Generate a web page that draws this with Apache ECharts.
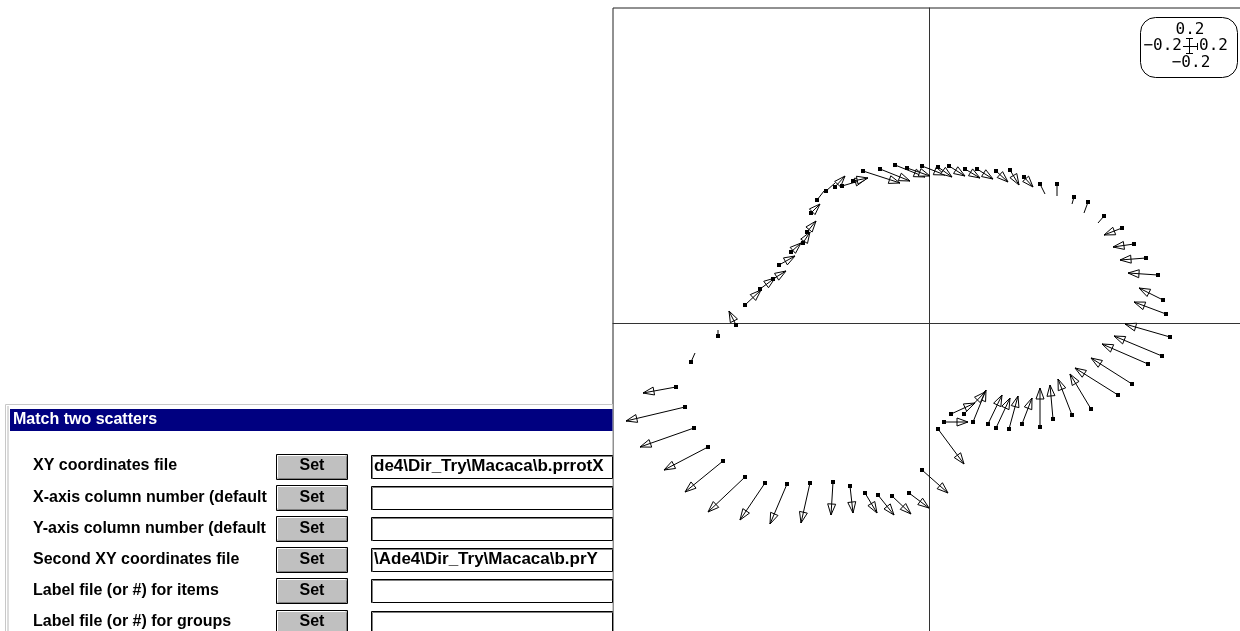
<!DOCTYPE html>
<html>
<head>
<meta charset="utf-8">
<script src="https://cdn.jsdelivr.net/npm/echarts@6/dist/echarts.min.js"></script>
<style>
html,body{margin:0;padding:0;background:#fff;overflow:hidden;}
#chart{width:1260px;height:660px;}
</style>
</head>
<body>
<div id="chart"></div>
<script>
// Arrow start points (first scatter) and end points (second scatter)
const xStart = [-3.68,-3.38,-3.12,-3.00,-2.76,-2.52,-2.44,-2.36,-2.24,-2.06,-1.88,-1.74,-1.52,
  -1.32,-0.98,-0.68,-0.44,-0.14,0.18,0.40,0.72,0.96,1.34,1.62,1.90,2.22,2.56,2.90,3.18,3.50,
  3.86,4.10,4.34,4.58,4.68,4.74,4.82,4.66,4.38,4.06,3.78,3.24,2.86,2.48,2.22,1.86,1.60,1.34,1.18,0.88,0.70,0.44,0.30,0.18,
  -0.14,-0.40,-0.74,-1.02,-1.28,-1.58,-1.92,-2.38,-2.84,-3.28,-3.68,-4.12,-4.42,-4.70,-4.88,-5.06,-4.76,-4.22,-3.86];
const yStart = [0.36,0.68,0.88,1.16,1.42,1.60,1.82,2.20,2.46,2.64,2.72,2.74,2.84,
  3.04,3.08,3.16,3.10,3.14,3.12,3.14,3.08,3.08,3.04,3.06,2.92,2.78,2.78,2.52,2.42,2.14,
  1.90,1.58,1.30,0.96,0.46,0.18,-0.28,-0.66,-0.82,-1.22,-1.44,-1.72,-1.84,-1.92,-2.08,-2.02,-2.12,-2.10,-2.02,-1.98,-1.82,-1.82,-1.98,-2.12,
  -2.94,-3.40,-3.46,-3.44,-3.40,-3.26,-3.18,-3.20,-3.22,-3.20,-3.08,-2.76,-2.48,-2.10,-1.68,-1.28,-0.78,-0.26,-0.04];
const xEnd = [-3.36,-3.08,-2.86,-2.68,-2.56,-2.38,-2.26,-2.18,-2.10,-1.88,-1.68,-1.26,-1.22,
  -0.58,-0.38,-0.08,0.02,0.32,0.46,0.72,1.02,1.28,1.58,1.80,2.08,2.32,2.56,2.86,3.10,3.38,
  3.50,3.68,3.82,3.98,4.20,4.10,3.92,3.70,3.46,3.24,2.92,2.82,2.58,2.42,2.22,2.06,1.78,1.62,1.46,1.14,1.12,0.92,0.78,0.70,
  0.38,0.00,-0.36,-0.70,-1.04,-1.52,-1.96,-2.56,-3.18,-3.78,-4.42,-4.88,-5.30,-5.78,-6.06,-5.72,-4.68,-4.22,-4.00];
const yEnd = [0.66,0.90,1.04,1.34,1.60,1.82,2.04,2.38,2.64,2.80,2.94,2.88,2.90,
  2.80,2.84,2.92,2.94,2.96,2.92,2.94,2.90,2.88,2.82,2.76,2.72,2.58,2.54,2.38,2.20,2.00,
  1.76,1.52,1.26,1.00,0.70,0.42,-0.02,-0.26,-0.42,-0.70,-0.90,-1.02,-1.12,-1.24,-1.30,-1.50,-1.46,-1.50,-1.44,-1.34,-1.38,-1.60,-1.98,-2.82,
  -3.40,-3.70,-3.82,-3.84,-3.80,-3.80,-3.84,-4.00,-4.02,-3.94,-3.78,-3.38,-2.94,-2.48,-1.96,-1.40,-0.60,-0.14,0.24];

// Dialog content
const dialogTitle = 'Match two scatters';
const rowLabels = ['XY coordinates file','X-axis column number (default','Y-axis column number (default',
  'Second XY coordinates file','Label file (or #) for items','Label file (or #) for groups'];
const fieldTexts = ['de4\\Dir_Try\\Macaca\\b.prrotX','','','\\Ade4\\Dir_Try\\Macaca\\b.prY','',''];
const buttonText = 'Set';
// Scale legend labels
const scaleLabels = {top:'0.2', left:'\u22120.2', right:'0.2', bottom:'\u22120.2'};

const arrows = xStart.map((x,i)=>[x, yStart[i], xEnd[i], yEnd[i]]);

const chart = echarts.init(document.getElementById('chart'), null, {renderer:'canvas'});

const font = 'Liberation Sans, Arial, sans-serif';
const g = [];
// dialog frame (its right part is hidden behind the plot)
g.push({type:'rect', shape:{x:5.5,y:404.5,width:607,height:240}, style:{fill:'#fff', stroke:'#c8c8c8', lineWidth:1}});
g.push({type:'line', shape:{x1:8,y1:406,x2:8,y2:640}, style:{stroke:'#dcdcdc', lineWidth:2}});
g.push({type:'rect', shape:{x:10,y:409,width:602.5,height:22}, style:{fill:'#000080'}});
g.push({type:'text', x:13, y:420, style:{text:dialogTitle, fill:'#fff', fontSize:16, fontWeight:'bold', fontFamily:font, verticalAlign:'middle', textVerticalAlign:'middle'}});
rowLabels.forEach((lab,i)=>{
  const cy = 466 + i*31.2;
  g.push({type:'text', x:33, y:cy, style:{text:lab, fill:'#000', fontSize:16, fontWeight:'bold', fontFamily:font, verticalAlign:'middle', textVerticalAlign:'middle'}});
  // button
  const bx=276.5, by=Math.round(cy-12.5)+0.5, bw=71, bh=25;
  g.push({type:'rect', shape:{x:bx,y:by,width:bw,height:bh}, style:{fill:'#c0c0c0', stroke:'#000', lineWidth:1}});
  g.push({type:'polyline', shape:{points:[[bx+1,by+bh-2],[bx+1,by+1],[bx+bw-2,by+1]]}, style:{stroke:'#fff', lineWidth:1, fill:null}});
  g.push({type:'polyline', shape:{points:[[bx+2,by+bh-1],[bx+bw-1,by+bh-1],[bx+bw-1,by+2]]}, style:{stroke:'#808080', lineWidth:1, fill:null}});
  g.push({type:'text', x:bx+bw/2, y:cy, style:{text:buttonText, fill:'#000', fontSize:16, fontWeight:'bold', fontFamily:font, align:'center', textAlign:'center', verticalAlign:'middle', textVerticalAlign:'middle'}});
  // field
  const fx=371.5, fy=Math.round(cy-11.5)+0.5, fw=241, fh=23;
  g.push({type:'rect', shape:{x:fx,y:fy,width:fw,height:fh}, style:{fill:'#fff', stroke:'#000', lineWidth:1}});
  g.push({type:'polyline', shape:{points:[[fx+1,fy+fh],[fx+1,fy+1],[fx+fw,fy+1]]}, style:{stroke:'#808080', lineWidth:1, fill:null}});
  if (fieldTexts[i]) g.push({type:'text', x:374, y:cy, style:{text:fieldTexts[i], fill:'#000', fontSize:17, fontWeight:'bold', fontFamily:font, verticalAlign:'middle', textVerticalAlign:'middle'}});
});
// scale legend box
const lf = {fontSize:16, fontFamily:'DejaVu Sans Mono, monospace', fill:'#000'};
g.push({type:'rect', shape:{x:1140.5,y:17.5,width:97,height:60,r:15}, style:{fill:'#fff', stroke:'#000', lineWidth:1}, z:10});
g.push({type:'text', x:1190, y:30, z:11, style:Object.assign({text:scaleLabels.top, align:'center', textAlign:'center', verticalAlign:'middle', textVerticalAlign:'middle'}, lf)});
g.push({type:'text', x:1182, y:46, z:11, style:Object.assign({text:scaleLabels.left, align:'right', textAlign:'right', verticalAlign:'middle', textVerticalAlign:'middle'}, lf)});
g.push({type:'text', x:1199, y:46, z:11, style:Object.assign({text:scaleLabels.right, align:'left', textAlign:'left', verticalAlign:'middle', textVerticalAlign:'middle'}, lf)});
g.push({type:'text', x:1191, y:63, z:11, style:Object.assign({text:scaleLabels.bottom, align:'center', textAlign:'center', verticalAlign:'middle', textVerticalAlign:'middle'}, lf)});
g.push({type:'line', z:11, shape:{x1:1189.5,y1:38,x2:1189.5,y2:54}, style:{stroke:'#000', lineWidth:1}});
g.push({type:'line', z:11, shape:{x1:1186,y1:38.5,x2:1193,y2:38.5}, style:{stroke:'#000', lineWidth:1}});
g.push({type:'line', z:11, shape:{x1:1186,y1:53.5,x2:1193,y2:53.5}, style:{stroke:'#000', lineWidth:1}});
g.push({type:'line', z:11, shape:{x1:1183,y1:46.5,x2:1198,y2:46.5}, style:{stroke:'#000', lineWidth:1}});
g.push({type:'line', z:11, shape:{x1:1197.5,y1:43,x2:1197.5,y2:50}, style:{stroke:'#000', lineWidth:1}});

function renderArrow(params, api){
  const p0 = api.coord([api.value(0), api.value(1)]);
  const p1 = api.coord([api.value(2), api.value(3)]);
  const children = [];
  children.push({type:'line', shape:{x1:p0[0],y1:p0[1],x2:p1[0],y2:p1[1]}, style:{stroke:'#000', lineWidth:1}});
  const dx=p1[0]-p0[0], dy=p1[1]-p0[1];
  const len=Math.sqrt(dx*dx+dy*dy);
  if (len > 12.5){
    const ux=dx/len, uy=dy/len, L=11, W=4;
    const bx=p1[0]-ux*L, by=p1[1]-uy*L;
    children.push({type:'polygon', shape:{points:[[p1[0],p1[1]],[bx-uy*W,by+ux*W],[bx+uy*W,by-ux*W]]}, style:{fill:'#fff', stroke:'#000', lineWidth:1}});
    children.push({type:'line', shape:{x1:bx,y1:by,x2:p1[0],y2:p1[1]}, style:{stroke:'#000', lineWidth:1}});
  }
  children.push({type:'rect', shape:{x:p0[0]-2,y:p0[1]-2,width:4,height:4}, style:{fill:'#000'}});
  return {type:'group', children};
}

chart.setOption({
  animation:false,
  backgroundColor:'#fff',
  graphic:{elements:g},
  grid:{left:613, top:8, width:632, height:630, show:true, borderColor:'#222', borderWidth:1, backgroundColor:'transparent'},
  xAxis:{type:'value', min:-6.32, max:6.32, axisLine:{show:true, onZero:true, lineStyle:{color:'#333', width:1}}, axisTick:{show:false}, axisLabel:{show:false}, splitLine:{show:false}},
  yAxis:{type:'value', min:-6.3, max:6.3, axisLine:{show:true, onZero:true, lineStyle:{color:'#333', width:1}}, axisTick:{show:false}, axisLabel:{show:false}, splitLine:{show:false}},
  series:[{type:'custom', renderItem:renderArrow, data:arrows, encode:{x:[0,2], y:[1,3]}, clip:false, z:5}]
});
</script>
</body>
</html>
